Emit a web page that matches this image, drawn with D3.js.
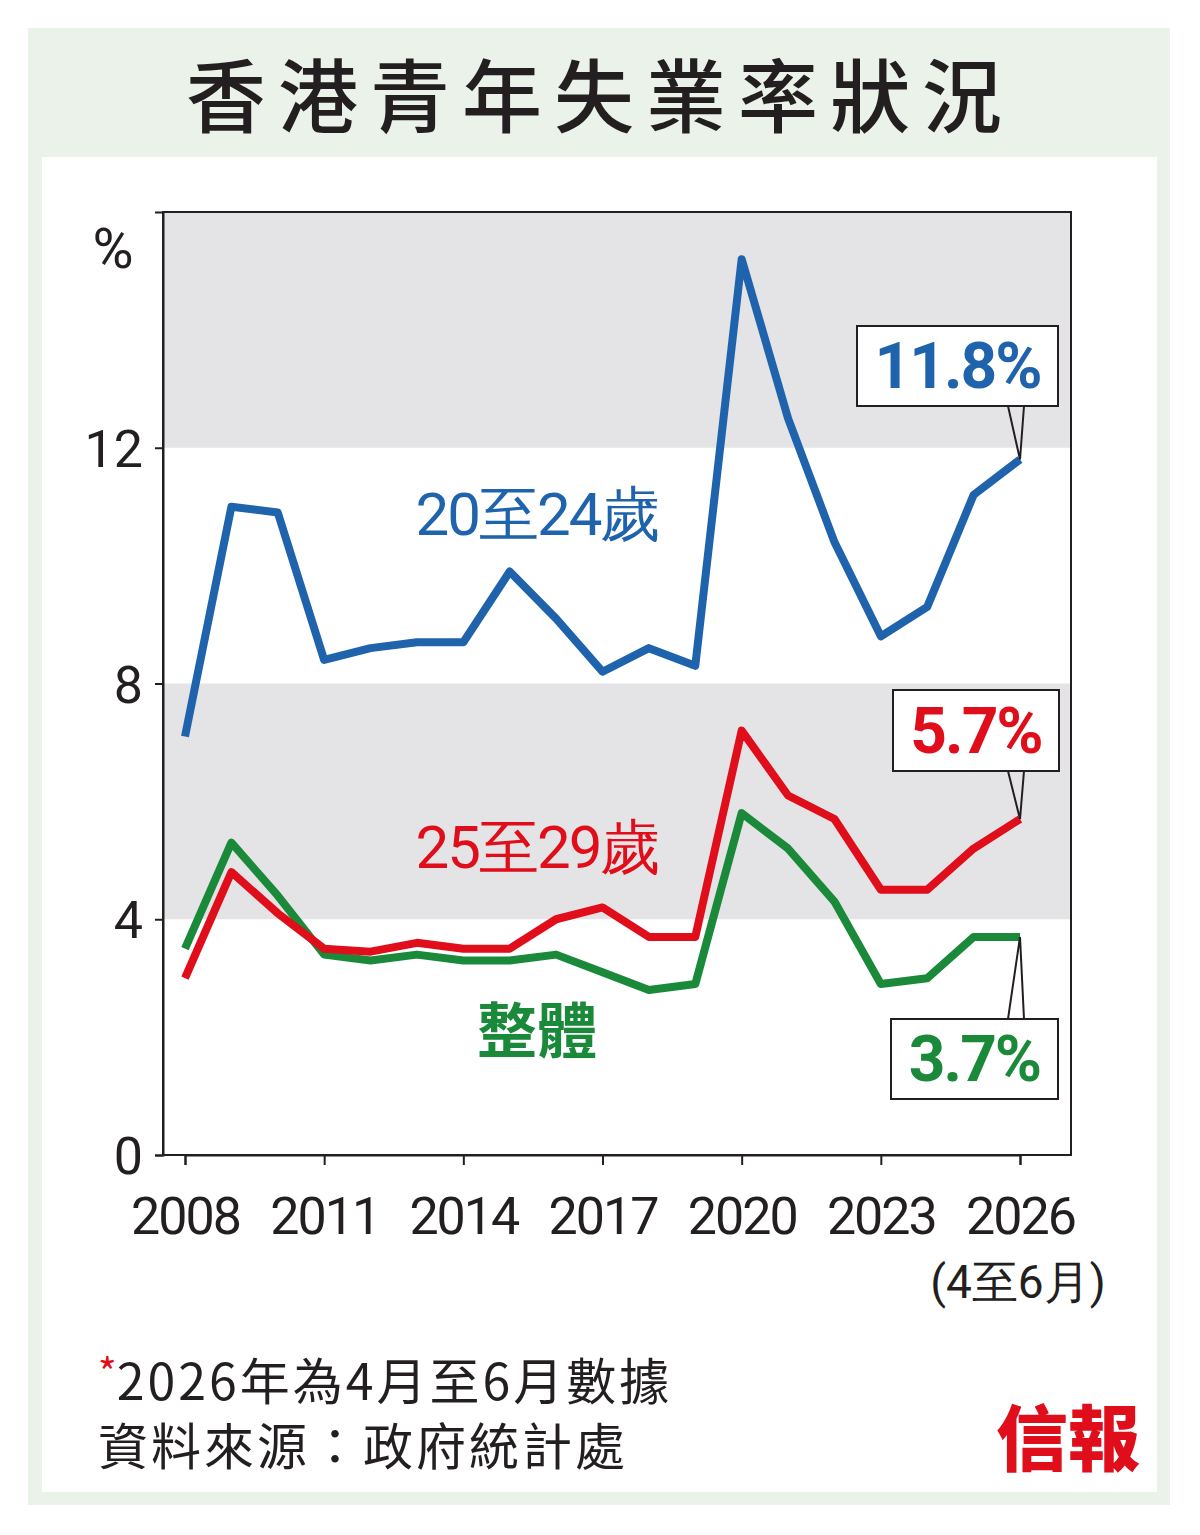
<!DOCTYPE html>
<html><head><meta charset="utf-8">
<script src="https://cdn.jsdelivr.net/npm/d3@7"></script>
<style>body{margin:0;background:#fff}</style>
</head><body>
<svg id="chart" width="1200" height="1535"></svg>
<script>
(function () {
var years = d3.range(2008, 2027);
var series = {
	youth: {color: "#1f63ad", label: "20至24歲", lx: 537, ly: 515, bold: false,
		values: [7.1, 11.0, 10.9, 8.4, 8.6, 8.7, 8.7, 9.9, 9.1, 8.2, 8.6, 8.3, 15.2, 12.5, 10.4, 8.8, 9.3, 11.2, 11.8]},
	young: {color: "#e00d1a", label: "25至29歲", lx: 537, ly: 848, bold: false,
		values: [3.0, 4.8, 4.1, 3.5, 3.45, 3.6, 3.5, 3.5, 4.0, 4.2, 3.7, 3.7, 7.2, 6.1, 5.7, 4.5, 4.5, 5.2, 5.7]},
	overall: {color: "#1a8a3a", label: "整體", lx: 537, ly: 1033, bold: true,
		values: [3.5, 5.3, 4.4, 3.4, 3.3, 3.4, 3.3, 3.3, 3.4, 3.1, 2.8, 2.9, 5.8, 5.2, 4.3, 2.9, 3.0, 3.7, 3.7]}
};
// callout boxes: x, y, w, h
var callouts = [
	{key: "youth", box: [857, 326, 201, 80]},
	{key: "young", box: [893, 690, 166, 81]},
	{key: "overall", box: [891, 1019, 167, 80]}
];

var svg = d3.select("#chart");
var cond = "'Liberation Sans Narrow','Roboto','Liberation Sans',sans-serif";
var cjk = "'Noto Sans CJK TC','Noto Sans CJK SC',sans-serif";

// frame
svg.append("rect").attr("x", 28).attr("y", 28).attr("width", 1142).attr("height", 1477).attr("fill", "#ebf2e9");
svg.append("rect").attr("x", 42).attr("y", 157).attr("width", 1115).attr("height", 1335).attr("fill", "#fff");
svg.append("text").attr("x", 600).attr("y", 126).attr("text-anchor", "middle")
	.attr("font-family", cjk).attr("font-weight", 500).attr("font-size", 80).attr("letter-spacing", 12)
	.attr("fill", "#231f20").text("香港青年失業率狀況");

var pLeft = 163, pRight = 1071, pTop = 212, pBottom = 1155;
var x = d3.scaleLinear().domain([2008, 2026]).range([185, 1020]);
var y = d3.scaleLinear().domain([0, 16]).range([pBottom, pTop]);

// bands
[[12, 16], [4, 8]].forEach(function (b) {
	svg.append("rect").attr("x", pLeft).attr("width", pRight - pLeft)
		.attr("y", y(b[1])).attr("height", y(b[0]) - y(b[1])).attr("fill", "#e4e3e5");
});
svg.append("rect").attr("x", pLeft).attr("y", pTop).attr("width", pRight - pLeft).attr("height", pBottom - pTop)
	.attr("fill", "none").attr("stroke", "#231f20").attr("stroke-width", 2);

var yAxis = svg.append("g").attr("transform", "translate(" + pLeft + ",0)")
	.call(d3.axisLeft(y).tickValues([0, 4, 8, 12]).tickSize(8).tickPadding(12));
var xAxis = svg.append("g").attr("transform", "translate(0," + pBottom + ")")
	.call(d3.axisBottom(x).tickValues(d3.range(2008, 2027, 3)).tickFormat(d3.format("d")).tickSize(10).tickPadding(30));
[yAxis, xAxis].forEach(function (g) {
	g.select(".domain").attr("stroke", "#231f20").attr("stroke-width", 2);
	g.selectAll("line").attr("stroke", "#231f20").attr("stroke-width", 2);
	g.selectAll("text").attr("font-family", cond).attr("font-size", 52).attr("fill", "#231f20");
});
xAxis.selectAll("text").attr("dy", "0.75em").attr("letter-spacing", -2);
yAxis.selectAll("text").attr("dy", "0.36em");
svg.append("text").attr("x", 113).attr("y", 268).attr("text-anchor", "middle")
	.attr("font-family", cond).attr("font-size", 56).attr("fill", "#231f20").text("%");
svg.append("text").attr("x", 1018).attr("y", 1298).attr("text-anchor", "middle")
	.attr("font-family", cond).attr("font-size", 46).attr("fill", "#231f20").text("(4至6月)");

var line = d3.line().x(function (d, i) { return x(years[i]); }).y(function (d) { return y(d); });
["overall", "young", "youth"].forEach(function (k) {
	var s = series[k];
	svg.append("path").datum(s.values).attr("d", line).attr("fill", "none")
		.attr("stroke", s.color).attr("stroke-width", 8).attr("stroke-linejoin", "round");
	svg.append("text").attr("x", s.lx).attr("y", s.ly + 20).attr("text-anchor", "middle")
		.attr("font-family", k === "overall" ? cjk : cond).attr("font-weight", s.bold ? 700 : 400)
		.attr("font-size", 60).attr("letter-spacing", k === "overall" ? 0 : -2).attr("fill", s.color).text(s.label);
});

callouts.forEach(function (c) {
	var s = series[c.key], b = c.box, last = s.values[s.values.length - 1];
	var px = x(2026), py = y(last);
	var ay = c.key === "overall" ? b[1] : b[1] + b[3];
	svg.append("path").attr("d", "M" + (px - 12) + "," + ay + "L" + px + "," + py + "L" + (px + 4) + "," + ay)
		.attr("fill", "none").attr("stroke", "#231f20").attr("stroke-width", 2);
	svg.append("rect").attr("x", b[0]).attr("y", b[1]).attr("width", b[2]).attr("height", b[3])
		.attr("fill", "#fff").attr("stroke", "#231f20").attr("stroke-width", 2);
	svg.append("text").attr("x", b[0] + b[2] / 2).attr("y", b[1] + b[3] / 2 + 22).attr("text-anchor", "middle")
		.attr("font-family", cond).attr("font-weight", 700).attr("font-size", 64).attr("letter-spacing", -2).attr("fill", s.color)
		.text(d3.format(".1f")(last) + "%");
});

var note = svg.append("text").attr("x", 98).attr("y", 1400).attr("font-family", cjk).attr("font-size", 50).attr("fill", "#231f20");
note.append("tspan").attr("fill", "#e00d1a").attr("font-size", 40).attr("dy", -12).text("*");
note.append("tspan").attr("dy", 12).attr("letter-spacing", 3).text("2026年為4月至6月數據");
svg.append("text").attr("x", 98).attr("y", 1465).attr("font-family", cjk).attr("font-size", 50).attr("fill", "#231f20")
	.attr("letter-spacing", 3).text("資料來源：政府統計處");
svg.append("text").attr("x", 1068).attr("y", 1465).attr("text-anchor", "middle").attr("font-family", cjk)
	.attr("font-weight", 900).attr("font-size", 72).attr("fill", "#e00d1a").text("信報");
})();
</script>
</body></html>
